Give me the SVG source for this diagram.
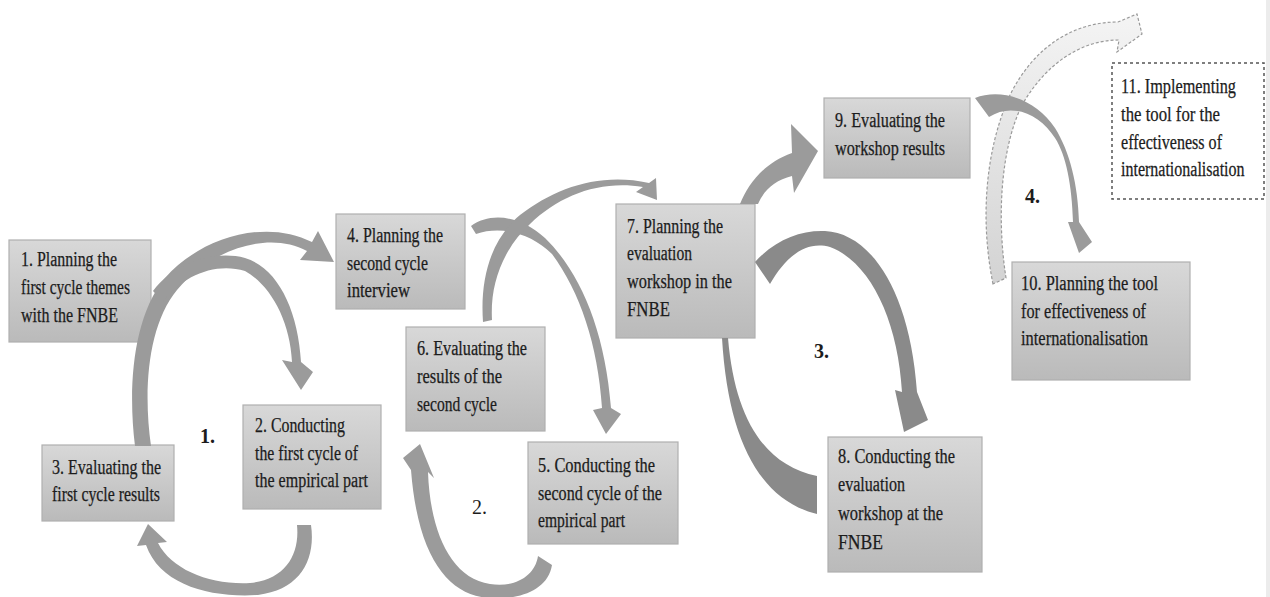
<svg xmlns="http://www.w3.org/2000/svg" width="1270" height="597" viewBox="0 0 1270 597">
<defs>
<linearGradient id="boxg" x1="0" y1="0" x2="0" y2="1">
<stop offset="0" stop-color="#d8d8d8"/>
<stop offset="1" stop-color="#bababa"/>
</linearGradient>
<linearGradient id="dashg" x1="0" y1="1" x2="0" y2="0">
<stop offset="0" stop-color="#d3d3d3"/>
<stop offset="1" stop-color="#f4f4f4"/>
</linearGradient>
<style>
.box{fill:url(#boxg);stroke:#b0b0b0;stroke-width:1.2}
.dbox{fill:#ffffff;stroke:#555;stroke-width:1.5;stroke-dasharray:3 3}
.t{font-family:"Liberation Serif",serif;font-size:20px;fill:#1c1c1c;stroke:#1c1c1c;stroke-width:0.25}
.lab{font-family:"Liberation Serif",serif;font-size:20px;fill:#1c1c1c}
.b{font-weight:bold}
.arr{fill:#9b9b9b}
.arrd{fill:#8a8a8a}
.arrx{fill:url(#dashg);stroke:#9a9a9a;stroke-width:1.2;stroke-dasharray:3 2}
</style>
</defs>
<rect x="0" y="0" width="1270" height="597" fill="#ffffff"/>
<rect x="1266" y="0" width="4" height="597" fill="#ececec"/>

<g id="n1"><rect class="box" x="9" y="240" width="142" height="102"/>
<text class="t" x="21" y="266" textLength="96" lengthAdjust="spacingAndGlyphs">1. Planning the</text>
<text class="t" x="21" y="294" textLength="109" lengthAdjust="spacingAndGlyphs">first cycle themes</text>
<text class="t" x="21" y="322" textLength="97" lengthAdjust="spacingAndGlyphs">with the FNBE</text></g>

<g id="n2"><rect class="box" x="243" y="405" width="138" height="104"/>
<text class="t" x="255" y="432" textLength="90" lengthAdjust="spacingAndGlyphs">2. Conducting</text>
<text class="t" x="255" y="460" textLength="103" lengthAdjust="spacingAndGlyphs">the first cycle of</text>
<text class="t" x="255" y="487" textLength="113" lengthAdjust="spacingAndGlyphs">the empirical part</text></g>

<g id="n3"><rect class="box" x="42" y="445" width="132" height="76"/>
<text class="t" x="52" y="474" textLength="109" lengthAdjust="spacingAndGlyphs">3. Evaluating the</text>
<text class="t" x="52" y="501" textLength="108" lengthAdjust="spacingAndGlyphs">first cycle results</text></g>

<g id="n4"><rect class="box" x="336" y="214" width="129" height="95"/>
<text class="t" x="347" y="242" textLength="96" lengthAdjust="spacingAndGlyphs">4. Planning the</text>
<text class="t" x="347" y="270" textLength="81" lengthAdjust="spacingAndGlyphs">second cycle</text>
<text class="t" x="347" y="297" textLength="63" lengthAdjust="spacingAndGlyphs">interview</text></g>

<g id="n5"><rect class="box" x="528" y="442" width="150" height="102"/>
<text class="t" x="538" y="472" textLength="117" lengthAdjust="spacingAndGlyphs">5. Conducting the</text>
<text class="t" x="538" y="500" textLength="124" lengthAdjust="spacingAndGlyphs">second cycle of the</text>
<text class="t" x="538" y="527" textLength="87" lengthAdjust="spacingAndGlyphs">empirical part</text></g>

<g id="n6"><rect class="box" x="406" y="327" width="139" height="104"/>
<text class="t" x="417" y="355" textLength="110" lengthAdjust="spacingAndGlyphs">6. Evaluating the</text>
<text class="t" x="417" y="383" textLength="85" lengthAdjust="spacingAndGlyphs">results of the</text>
<text class="t" x="417" y="411" textLength="80" lengthAdjust="spacingAndGlyphs">second cycle</text></g>

<g id="n7"><rect class="box" x="616" y="204" width="139" height="134"/>
<text class="t" x="627" y="233" textLength="96" lengthAdjust="spacingAndGlyphs">7. Planning the</text>
<text class="t" x="627" y="260" textLength="65" lengthAdjust="spacingAndGlyphs">evaluation</text>
<text class="t" x="627" y="288" textLength="105" lengthAdjust="spacingAndGlyphs">workshop in the</text>
<text class="t" x="627" y="316" textLength="43" lengthAdjust="spacingAndGlyphs">FNBE</text></g>

<g id="n8"><rect class="box" x="828" y="437" width="154" height="135"/>
<text class="t" x="838" y="463" textLength="117" lengthAdjust="spacingAndGlyphs">8. Conducting the</text>
<text class="t" x="838" y="491" textLength="67" lengthAdjust="spacingAndGlyphs">evaluation</text>
<text class="t" x="838" y="520" textLength="105" lengthAdjust="spacingAndGlyphs">workshop at the</text>
<text class="t" x="838" y="549" textLength="45" lengthAdjust="spacingAndGlyphs">FNBE</text></g>

<g id="n9"><rect class="box" x="824" y="98" width="146" height="80"/>
<text class="t" x="835" y="127" textLength="110" lengthAdjust="spacingAndGlyphs">9. Evaluating the</text>
<text class="t" x="835" y="155" textLength="110" lengthAdjust="spacingAndGlyphs">workshop results</text></g>

<g id="n10"><rect class="box" x="1012" y="262" width="178" height="118"/>
<text class="t" x="1021" y="290" textLength="137" lengthAdjust="spacingAndGlyphs">10. Planning the tool</text>
<text class="t" x="1021" y="318" textLength="125" lengthAdjust="spacingAndGlyphs">for effectiveness of</text>
<text class="t" x="1021" y="345" textLength="127" lengthAdjust="spacingAndGlyphs">internationalisation</text></g>

<g id="n11"><rect class="dbox" x="1112" y="63" width="152" height="136"/>
<text class="t" x="1121" y="93" textLength="115" lengthAdjust="spacingAndGlyphs">11. Implementing</text>
<text class="t" x="1121" y="121" textLength="99" lengthAdjust="spacingAndGlyphs">the tool for the</text>
<text class="t" x="1121" y="149" textLength="101" lengthAdjust="spacingAndGlyphs">effectiveness of</text>
<text class="t" transform="translate(1121,176) scale(0.8,1)" x="0" y="0">internationalisation</text></g>

<g id="connectors">
<path class="arr" d="M135,446 C128,390 132,318 165,278 C200,238 265,218 312,242 L318,231 L334,262 L300,260 L307,251 C268,230 210,250 177,290 C148,325 143,390 151,446 Z"/>
<path class="arr" d="M153,291 C175,262 215,250 245,258 C278,268 298,310 301,362 L313,372 L301,390 L282,360 L292,362 C290,320 270,285 245,271 C215,262 182,276 163,302 Z"/>
<path class="arr" d="M311,525 C316,560 300,590 258,595 C210,598 160,585 146,545 L137,546 L148,524 L167,542 L158,543 C172,570 210,585 250,583 C285,580 300,555 297,525 Z"/>
<path class="arr" d="M471,226 C490,212 520,215 545,238 C580,272 605,330 611,408 L621,414 L606,434 L593,410 L602,408 C598,345 580,292 552,254 C530,232 500,226 476,234 Z"/>
<path class="arr" d="M483,322 C480,280 490,240 520,215 C555,188 600,172 649,183 L656,178 L657,200 L636,192 L643,187 C600,180 560,195 530,224 C502,250 490,285 492,320 Z"/>
<path class="arr" d="M552,565 C548,590 520,600 490,598 C450,596 418,560 411,470 L403,458 L420,444 L434,478 L428,472 C430,530 450,578 490,584 C515,588 535,576 538,556 Z"/>
<path class="arr" d="M740,204 C748,185 762,164 792,153 L791,124 L818,151 L794,193 L792,176 C775,180 764,190 758,204 Z"/>
<path class="arrd" d="M755,262 C775,240 800,230 825,231 C870,233 910,290 917,392 L928,420 L904,432 L895,390 L902,392 C898,320 870,262 830,247 C805,240 785,258 770,284 Z"/>
<path class="arrd" d="M817,514 C760,500 728,440 722,338 L728,338 C735,420 765,465 817,476 Z"/>
<path class="arrx" d="M993,284 C980,220 985,150 1010,95 C1035,45 1075,22 1118,22 L1137,14 L1142,34 L1117,52 L1119,40 C1080,40 1045,65 1022,105 C1000,150 997,220 1006,278 Z"/>
<path class="arr" d="M975,98 C1000,88 1035,98 1055,128 C1070,152 1078,185 1079,222 L1092,242 L1079,253 L1068,222 L1073,222 C1072,185 1066,155 1055,138 C1040,114 1012,102 989,117 Z"/>
</g>

<g id="labels">
<text class="lab b" x="200" y="443">1.</text>
<text class="lab" x="472" y="514">2.</text>
<text class="lab b" x="814" y="358">3.</text>
<text class="lab b" x="1025" y="203">4.</text>
</g>
</svg>
